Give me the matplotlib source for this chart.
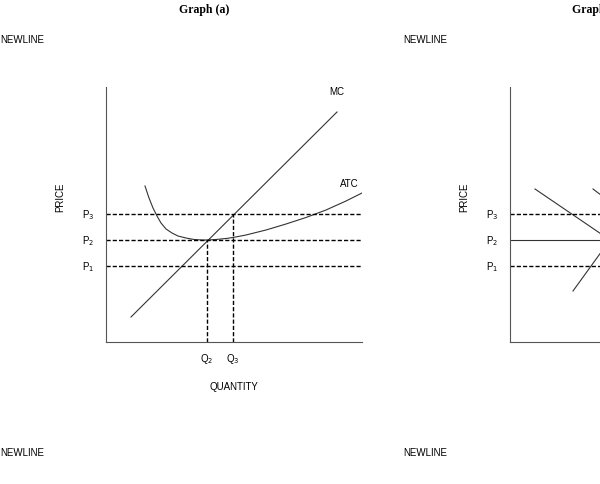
import matplotlib.pyplot as plt

W, H = 600, 485

# graph (a), axis units (0..256 wide, 0..255 tall)
mc_x = [25, 231]
mc_y = [25, 230]
atc_x = [39, 43, 47, 51, 55, 60, 66, 72, 80, 88, 96, 101, 110, 120, 127,
         140, 160, 180, 200, 220, 240, 256]
atc_y = [156, 144, 134, 126, 119, 113, 109, 106, 104, 102.5, 102, 102, 102.5,
         103.5, 104.5, 107, 112, 118, 124.5, 132, 141, 149]
prices = {'P3': 128, 'P2': 102, 'P1': 76}
q2, q3 = 101, 127

# graph (b), partly cut off
d1_x = [25, 125]
d1_y = [153, 85]
d2_x = [83, 140]
d2_y = [153, 110]
s_x = [63, 110]
s_y = [51, 116]

fig = plt.figure(figsize=(6, 4.85), dpi=100)
plt.rcParams['font.family'] = ['Liberation Sans', 'DejaVu Sans']


def make_axes(x0):
    ax = fig.add_axes([x0 / W, (H - 343) / H, 256 / W, 255 / H])
    ax.set_xlim(0, 256)
    ax.set_ylim(0, 255)
    for s in ['top', 'right']:
        ax.spines[s].set_visible(False)
    ax.spines['left'].set_color('#555555')
    ax.spines['bottom'].set_color('#555555')
    ax.set_xticks([])
    ax.set_yticks([])
    ax.set_ylabel('PRICE', fontsize=7)
    ax.yaxis.set_label_coords(-0.16, 0.57)
    for name, y in prices.items():
        ax.text(-12, y, name[0] + '$_{' + name[1] + '}$', fontsize=7,
                ha='right', va='center', clip_on=False)
    return ax


ax = make_axes(106)
ax.plot(mc_x, mc_y, color='#333333', lw=0.8)
ax.plot(atc_x, atc_y, color='#333333', lw=0.8)
for y in prices.values():
    ax.plot([0, 256], [y, y], color='black', lw=1, ls=(0, (3, 1.5)))
ax.plot([q2, q2], [0, prices['P2']], color='black', lw=1, ls=(0, (3, 1.5)))
ax.plot([q3, q3], [0, prices['P3']], color='black', lw=1, ls=(0, (3, 1.5)))
ax.text(q2, -16, 'Q$_2$', fontsize=7, ha='center', va='center')
ax.text(q3, -16, 'Q$_3$', fontsize=7, ha='center', va='center')
ax.text(128, -44, 'QUANTITY', fontsize=7, ha='center', va='center')
ax.text(231, 251, 'MC', fontsize=7, ha='center', va='center')
ax.text(243, 159, 'ATC', fontsize=7, ha='center', va='center')

bx = make_axes(510)
bx.plot(d1_x, d1_y, color='#333333', lw=0.8)
bx.plot(d2_x, d2_y, color='#333333', lw=0.8)
bx.plot(s_x, s_y, color='#333333', lw=0.8)
bx.plot([0, 256], [prices['P3']] * 2, color='black', lw=1, ls=(0, (3, 1.5)))
bx.plot([0, 256], [prices['P2']] * 2, color='#333333', lw=0.8)
bx.plot([0, 256], [prices['P1']] * 2, color='black', lw=1, ls=(0, (3, 1.5)))

fig.text(204 / W, 1 - 10 / H, 'Graph (a)', fontsize=8.5, fontweight='bold',
         family='Liberation Serif', ha='center', va='center')
fig.text(572 / W, 1 - 10 / H, 'Graph (b)', fontsize=8.5, fontweight='bold',
         family='Liberation Serif', ha='left', va='center')
for x, y in [(0, 40), (403, 40), (0, 453), (403, 453)]:
    fig.text(x / W, 1 - y / H, 'NEWLINE', fontsize=7, ha='left', va='center')

fig.savefig('out.png', dpi=100)
